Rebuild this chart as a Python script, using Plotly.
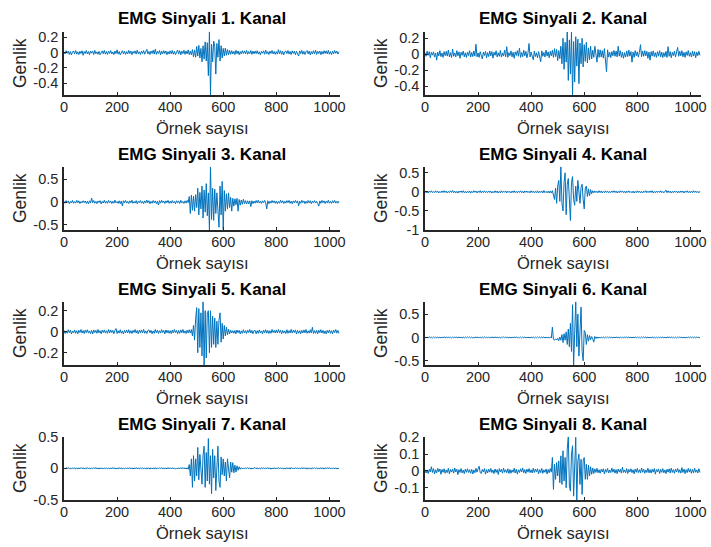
import numpy as np
import plotly.graph_objects as go

# Eight EMG channels, every 4th sample of the recording.
# Amplitudes are stored in thousandths (x 0.001).
SAMPLE_STEP = 4
AMP_SCALE = 1e-3

ch1 = [
    12, -18, 25, -9, 20, -24, 14, -30, 8, 22, -16, 28, -20, 10, -26, 18, -12, 24, -35, 15,
    -12, 27, -18, 14, -28, 21, -8, 19, -25, 30, -14, 10, -22, 17, -27, 11, 23, -15, 29, -20,
    14, -23, 19, -11, 27, -17, 9, -25, 21, -13, 36, -19, 15, -29, 11, 25, -16, 19, -23, 13,
    -18, 29, -13, 21, -27, 15, -9, 23, -19, 33, -15, 11, -25, 19, -13, 27, -21, 17, 42, -17,
    15, -25, 21, -11, 31, -19, 45, -23, 17, -13, 27, -29, 19, -15, 25, -11, 21, -27, 13, -19,
    23, -15, 29, -21, 17, -25, 13, 34, -19, 25, -29, 19, -13, 31, -23, 21, -17, 36, -27, 19,
    -28, 40, -55, 35, -60, 80, -45, 95, -70, 55, -120, 90, -85, 140, -110, 130, -300, 273, -553, 110,
    -120, 150, 80, -280, 120, -60, 170, -110, 90, -70, 55, -45, 60, -35, 40, -28, 30, -22, 25, -18,
    17, -25, 31, -15, 21, -27, 13, -19, 25, -11, 23, -17, 29, -21, 15, -13, 27, -23, 19, -15,
    21, -13, 25, -19, 11, -29, 17, -9, 23, -21, 33, -15, 13, -25, 19, -11, 27, -17, 15, -23,
    13, -19, 38, -15, 25, -23, 17, -29, 11, 21, -13, 27, -19, 15, -25, 23, -11, 19, -27, 17,
    -15, -45, 23, -13, 29, -21, 17, -25, 11, 27, -17, 21, -29, 13, -19, 25, -15, 31, -23, 17,
    -13, 21, -27, 15, -19, 25, -11, 23, -17, 29, -21, 13, -25, 19, -15, 27, -9, 21, -19, 11,
]

ch2 = [
    20, -26, 38, -14, 32, -45, 24, -12, 30, -36, 16, -75, 26, -20, 45, -30, 14, -40, 33, -18,
    36, -24, 52, -32, 20, -42, 65, -26, 16, -34, 45, -20, 30, -52, 24, -14, 40, -32, 18, -42,
    26, -18, 45, -36, 22, -30, 40, -24, 125, -33, 16, -40, 32, -22, -60, 26, -16, 36, -45, 20,
    -30, 40, -20, 33, -50, 24, -14, 43, -34, 18, -26, 48, -36, 16, -24, 52, -32, 95, -40, 20,
    -18, 42, -33, 24, -52, 30, -16, 45, -26, 75, -40, 22, -32, 50, -20, 36, -45, 16, 135, -34,
    26, -24, -70, 40, -30, 18, -45, 33, -16, -95, 42, -26, 22, -36, 52, -24, 30, -45, 36, -20,
    50, -40, 70, -30, 60, -80, 45, -55, 100, -120, 200, -190, 150, -100, 280, -330, 180, -250, 280, -510,
    160, -350, 220, -150, 190, -370, 140, -120, 200, -160, 120, -90, 150, -110, 80, -70, 100, -60, 50, -40,
    100, -50, -100, 60, -40, 55, -35, 45, -50, 70, -40, -220, 55, -36, 24, -42, 33, -20, 48, -26,
    40, -33, 100, -24, 45, -40, 26, -52, 20, -36, 42, -30, 52, -24, 33, -100, 26, -40, 45, -20,
    30, -36, 24, 120, -33, 40, -26, 45, -20, 36, -52, 26, -75, 33, -24, 42, -30, 20, -40, 32,
    -24, 45, -33, 26, -42, 20, -30, 36, -40, 95, -26, 33, -45, 24, -18, 40, -34, 30, 85, -26,
    36, -20, 44, -33, 24, -40, 30, -16, 46, -26, 20, -36, 40, -24, 32, -45, 26, -18, 36, -14,
]

ch3 = [
    16, -26, 32, -12, 24, -38, 14, -20, 35, -28, 10, -24, 38, -16, 26, -33, 12, -18, 28, -14,
    22, -30, 18, -38, 26, -24, 85, -16, 33, -26, 14, -35, 24, -12, 30, -40, 16, -22, 38, -26,
    18, -28, 35, -14, 24, -33, 16, -26, 40, -18, 12, -30, 26, -38, 22, -85, 28, -16, 35, -24,
    14, -33, 26, -18, 38, -28, 12, -24, 30, -40, 18, -14, 33, -26, 16, -35, 24, -20, 42, -16,
    28, -38, 14, -26, 33, -18, 24, -35, 16, -65, 30, -24, 38, -14, 22, -33, 26, -16, 35, -28,
    18, -26, 33, -20, 14, -38, 28, -16, 24, -33, 38, -18, 12, -30, 26, -24, 35, -14, 120, -250,
    150, -180, 130, -200, 160, -120, 300, -280, 210, -150, 350, -350, 260, -220, 400, -300, 200, -610, 770, -380,
    300, -400, 280, -250, 200, -300, -550, 350, -280, 450, -600, 250, -200, 180, -150, 200, -120, 100, -200, 80,
    -90, 70, -60, 80, -200, 55, -70, 45, -50, 60, -36, 30, -45, 26, -40, 24, -100, 28, -34, 20,
    -26, 33, -18, 38, -24, 16, -30, 26, -14, 35, -20, -150, 28, -38, 18, -24, 33, -16, 26, -28,
    20, -35, 14, -26, 38, -18, 28, -33, 16, -24, 30, -14, 35, -28, 18, -38, 24, -16, 33, -20,
    26, -85, 18, -30, 38, -14, 24, -35, 16, -26, 33, -18, 28, -38, 20, -16, 30, -24, 14, -33,
    -90, 24, -28, 35, -16, 26, -33, 18, -20, 38, -26, 14, -30, 28, -18, 33, -24, 16, -26, 20,
]

ch4 = [
    20, -25, 15, -30, 22, -12, 28, -20, 10, -22, 30, -15, 18, -28, 12, -20, 25, -18, 32, -15,
    22, -30, 12, -20, 28, -15, 35, -22, 18, -25, 15, -32, 20, -12, 25, -18, 30, -22, 12, -28,
    18, -22, 25, -35, 15, -20, 30, -12, 22, -28, 18, -15, 32, -25, 20, -18, 28, -22, 15, -20,
    25, -15, 20, -30, 12, -22, 28, -18, 22, -32, 15, -25, 30, -20, 18, -12, 25, -28, 20, -15,
    12, -28, 22, -18, 30, -20, 15, -25, 20, -15, 28, -22, 18, -30, 25, -12, 22, -20, 15, -25,
    30, -18, 20, -25, 15, -22, 28, -32, 18, -15, 22, -28, 35, -20, 12, -25, 20, -30, 25, -30,
    30, -60, -200, 100, -300, 150, 300, -250, 660, -300, -500, 250, 500, -600, 200, 350, -400, -750, 250, 400,
    -200, -350, 150, -250, 300, -150, -300, 120, 200, -200, -450, 100, 150, -120, 80, -100, 60, -50, 30, -25,
    25, -20, 18, -25, 30, -20, 25, -28, 15, -22, 28, -18, 20, -25, 12, -20, 22, -15, 30, -18,
    20, -28, 15, -22, 30, -12, 25, -20, 18, -32, 22, -15, 28, -18, 12, -25, 20, -30, 15, -22,
    28, -18, 22, -25, 15, -30, 20, -12, 32, -22, 18, -20, 25, -15, 30, -28, 12, -22, 20, -18,
    22, -15, 30, -20, 12, -25, 18, 45, -22, 28, -18, 20, -30, 15, -22, 25, -12, 20, -28, 18,
    -20, 25, -15, 22, -30, 18, -12, 28, -22, 15, -25, 20, -18, 30, -15, 22, -20, 12, -25, 18,
]

ch5 = [
    12, -17, 8, -14, 19, -10, 15, -21, 7, -12, 17, -15, 10, -19, 13, -8, 21, -13, 11, -17,
    15, -10, 19, -13, 8, -17, 12, -22, 17, -9, 13, -15, 21, -11, 10, -19, 15, -8, 17, -13,
    10, -15, 21, -12, 17, -8, 13, -19, 12, 30, -17, 10, -13, 19, -15, 8, -21, 13, -10, 17,
    -12, 19, -15, 10, -17, 13, -8, 21, -13, 12, -19, 15, -10, 17, -12, 22, -15, 8, -17, 12,
    17, -10, 13, -19, 8, -15, 21, -12, 15, -17, 10, -13, 19, -8, 12, -21, 17, -10, 13, -15,
    10, -17, 15, -12, 21, -8, 13, -19, 12, -15, 17, -10, 22, -13, 8, -17, 15, -12, 19, -13,
    20, -40, 60, -80, 120, 230, -200, 220, -150, 180, -230, 286, -317, 200, -250, 180, 200, -200, 200, -150,
    150, -120, 130, -150, 100, -120, 110, 180, -100, 80, -70, 60, -40, 45, -30, 25, -20, 15, -12, 10,
    -15, 12, -19, 17, -10, 13, -21, 8, -15, 19, -12, 10, -17, 15, -8, 21, -13, 12, -19, 10,
    13, -19, 10, -15, 17, -12, 8, -21, 15, -10, 19, -13, 12, -17, 10, -15, 21, -8, 13, -12,
    17, -12, 21, -10, 15, -19, 12, -13, 8, -17, 19, -15, 10, -12, 22, -13, 15, -8, 17, -21,
    12, -15, 10, -19, 13, -12, 17, -10, 21, -15, 8, -13, 19, -12, 42, -17, 10, -15, 13, -19,
    15, -10, 19, -13, 12, -17, 8, -21, 13, -12, 17, -15, 10, -19, 15, -8, 21, -13, 12, -17,
]

ch6 = [
    8, -11, 6, -9, 13, -8, 4, -12, 10, -6, 11, -13, 8, -10, 6, -12, 9, -8, 13, -6,
    10, -8, 12, -13, 6, -10, 8, -11, 13, -6, 9, -8, 12, -10, 6, -13, 8, -12, 10, -8,
    12, -6, 10, -11, 8, -13, 6, -9, 11, -8, 13, -10, 6, -12, 8, -9, 11, -6, 10, -13,
    6, -12, 13, -8, 10, -9, 12, -6, 8, -13, 10, -11, 6, -8, 12, -10, 13, -8, 6, -11,
    10, -13, 8, -9, 11, -6, 13, -12, 6, -10, 8, -11, 10, -8, 12, -13, 6, -9, 8, -12,
    11, -8, 10, -12, 6, -9, 13, -8, 8, -11, 10, -6, 12, -13, 8, -10, 6, -12, 10, -14,
    220, -40, -60, -30, -55, -20, -70, 10, -60, 60, -110, 80, -60, 120, -150, 180, -200, 300, -300, 700,
    -590, 250, 765, -200, 500, -400, 200, 650, -300, -500, 150, 100, -150, 60, -80, 40, -50, 20, -30, -100,
    20, -25, 12, -18, 10, -13, 8, -11, 10, -12, 8, -11, 10, -8, 12, -9, 6, -12, 8, -10,
    12, -8, 10, -13, 6, -10, 8, -12, 13, -6, 10, -8, 12, -10, 6, -11, 8, -9, 13, -8,
    10, -11, 6, -9, 12, -8, 13, -6, 10, -12, 8, -13, 6, -10, 11, -8, 9, -12, 6, -10,
    8, -13, 11, -6, 10, -9, 6, -12, 13, -8, 10, -6, 12, -10, 8, -11, 6, -13, 9, -8,
    11, -6, 8, -12, 10, -13, 6, -8, 12, -10, 13, -6, 8, -11, 10, -8, 12, -9, 6, -11,
]

ch7 = [
    8, -11, 10, -6, 13, -9, 6, -12, 8, -8, 11, -10, 6, -13, 9, -8, 12, -6, 10, -11,
    6, -10, 12, -8, 9, -13, 8, -6, 11, -9, 13, -8, 6, -12, 10, -9, 8, -11, 6, -8,
    11, -8, 6, -12, 9, -10, 13, -6, 8, -11, 6, -9, 12, -8, 10, -13, 8, -9, 6, -11,
    10, -6, 12, -9, 8, -11, 6, -8, 13, -10, 9, -12, 8, -6, 11, -9, 6, -13, 10, -8,
    8, -12, 9, -8, 6, -10, 11, -13, 8, -9, 10, -6, 13, -11, 8, -8, 6, -10, 12, -9,
    9, -8, 11, -10, 8, -13, 6, -11, 10, -8, 12, -9, 13, -6, 8, -11, 10, -14, 60, -120,
    150, -300, 200, -200, 150, -120, 330, -180, 220, -100, -250, 200, 350, -300, 250, -200, 470, -250, 200, -400,
    300, -150, 200, -350, 150, 350, -200, -300, 180, -100, 150, -120, 100, -200, 150, -80, -150, 100, -60, 90,
    -70, 50, -60, 40, -30, 25, -15, 10, -9, 8, -11, 10, -6, 12, -8, 9, -13, 6, -10, 8,
    11, -8, 10, -12, 6, -9, 13, -8, 8, -11, 10, -6, 12, -9, 8, -13, 6, -8, 10, -11,
    8, -10, 12, -6, 9, -11, 8, -13, 6, -10, 11, -8, 9, -12, 13, -6, 8, -9, 11, -8,
    10, -11, 6, -9, 13, -8, 11, -6, 8, -12, 9, -10, 6, -13, 11, -8, 10, -6, 8, -11,
    6, -9, 11, -8, 10, -13, 8, -6, 12, -9, 13, -8, 6, -11, 9, -10, 8, -12, 6, -8,
]

ch8 = [
    8, -12, 5, -15, 10, -6, 25, -9, 14, -18, 7, -11, 16, -5, 12, -20, 9, -8, 13, -14,
    6, -10, 15, -17, 9, -7, 12, -13, 18, -6, 10, -22, 8, -9, 14, -12, 5, -16, 11, -8,
    13, -9, 7, -14, 10, -18, 6, -11, 16, -7, 12, 28, -10, -15, 9, -6, 14, -19, 8, -12,
    11, -7, 15, -10, 6, -16, 12, -9, 8, -21, 14, -6, 10, -13, 17, -8, 7, -11, 13, -15,
    9, -14, 6, -8, 16, -12, 10, -19, 7, -9, 13, -6, 18, -11, 8, -15, 11, -7, 14, -10,
    7, -12, 16, -9, 11, -6, 13, -17, 8, -10, 15, -14, 6, -8, 12, -18, 9, -11, 14, -7,
    80, -110, 40, -50, 50, -30, 60, -70, 90, -80, 120, -60, 80, -100, 130, 204, -90, -120, 100, 150,
    -150, 110, 200, -173, 60, 100, -80, 70, -140, 60, 80, -50, 40, -50, 35, -30, 25, -20, 18, -15,
    12, -9, 16, -11, 7, -14, 10, -6, 13, -18, 9, -8, 15, -12, 6, -10, 17, -7, 11, -13,
    8, -16, 12, -7, 10, -13, 22, -9, 6, -11, 14, -15, 9, -6, 13, -10, 7, -17, 11, -8,
    15, -10, 7, -12, 18, -8, 11, -14, 6, -9, 16, -11, 8, -13, 10, -7, 14, -19, 9, -6,
    12, -15, 9, -8, 14, -11, 6, -16, 10, -7, 13, -12, 17, -9, 8, -14, 11, -6, 15, -10,
    7, -13, 20, -9, 11, -16, 8, -10, 15, -7, 12, -14, 9, -11, 16, -8, 6, -12, 13, -9,
]

channels = [ch1, ch2, ch3, ch4, ch5, ch6, ch7, ch8]
titles = [f"EMG Sinyali {k}. Kanal" for k in range(1, 9)]
x_label = "Örnek sayısı"
y_label = "Genlik"

x_range = [0, 1040]
x_tickvals = [0, 200, 400, 600, 800, 1000]
x_ticktext = ["0", "200", "400", "600", "800", "1000"]

y_ranges = [
    [-0.553, 0.273], [-0.513, 0.283],
    [-0.61, 0.77], [-1.0, 0.66],
    [-0.317, 0.286], [-0.59, 0.765],
    [-0.5, 0.5], [-0.173, 0.204],
]
y_tickvals = [
    [-0.4, -0.2, 0, 0.2], [-0.4, -0.2, 0, 0.2],
    [-0.5, 0, 0.5], [-1, -0.5, 0, 0.5],
    [-0.2, 0, 0.2], [-0.5, 0, 0.5],
    [-0.5, 0, 0.5], [-0.1, 0, 0.1, 0.2],
]
y_ticktext = [
    ["-0.4", "-0.2", "0", "0.2"], ["-0.4", "-0.2", "0", "0.2"],
    ["-0.5", "0", "0.5"], ["-1", "-0.5", "0", "0.5"],
    ["-0.2", "0", "0.2"], ["-0.5", "0", "0.5"],
    ["-0.5", "0", "0.5"], ["-0.1", "0", "0.1", "0.2"],
]

# ---- layout (pixels of a 711 x 547 page) ----
W, H = 711, 547
col_px = [(64, 340), (425, 701)]
row_px = [(31.7, 95), (166.7, 230), (301.7, 365), (436.7, 500)]

FONT = "Liberation Sans, Arial, Helvetica, sans-serif"
AX_COLOR = "#262626"
LINE_COLOR = "#0072BD"

fig = go.Figure()
layout = dict(
    width=W, height=H,
    margin=dict(l=0, r=0, t=0, b=0),
    paper_bgcolor="white", plot_bgcolor="white",
    showlegend=False,
    font=dict(family=FONT, color=AX_COLOR, size=14),
)
annotations = []

for k, ch in enumerate(channels):
    r, c = divmod(k, 2)
    n = k + 1
    xname = "xaxis" if n == 1 else f"xaxis{n}"
    yname = "yaxis" if n == 1 else f"yaxis{n}"
    xref = "x" if n == 1 else f"x{n}"
    yref = "y" if n == 1 else f"y{n}"

    amp = np.asarray(ch, dtype=float) * AMP_SCALE
    idx = np.arange(amp.size) * SAMPLE_STEP

    fig.add_trace(go.Scatter(
        x=idx, y=amp, mode="lines",
        line=dict(color=LINE_COLOR, width=1),
        xaxis=xref, yaxis=yref, hoverinfo="skip",
    ))

    x0, x1 = col_px[c]
    top, bot = row_px[r]
    axis_common = dict(
        showline=True, linecolor=AX_COLOR, linewidth=1.6,
        ticks="inside", ticklen=3, tickwidth=1.3, tickcolor=AX_COLOR,
        showgrid=False, zeroline=False, mirror=False,
        tickfont=dict(family=FONT, size=14.5, color=AX_COLOR),
        automargin=False,
    )
    layout[xname] = dict(
        axis_common, domain=[x0 / W, x1 / W], anchor=yref,
        range=x_range, tickmode="array", tickvals=x_tickvals, ticktext=x_ticktext,
        ticklabelstandoff=-2,
    )
    layout[yname] = dict(
        axis_common, domain=[1 - bot / H, 1 - top / H], anchor=xref,
        range=y_ranges[k], tickmode="array", tickvals=y_tickvals[k], ticktext=y_ticktext[k],
        ticklabelstandoff=1,
    )

    dom_x = f"{xref} domain"
    dom_y = f"{yref} domain"
    annotations.append(dict(
        text=f"<b>{titles[k]}</b>", xref=dom_x, yref=dom_y, x=0.5, y=1,
        yshift=12.7, xanchor="center", yanchor="middle", showarrow=False,
        font=dict(family=FONT, size=17, color="black"),
    ))
    annotations.append(dict(
        text=x_label, xref=dom_x, yref=dom_y, x=0.5, y=0,
        yshift=-33, xanchor="center", yanchor="middle", showarrow=False,
        font=dict(family=FONT, size=16.5, color=AX_COLOR),
    ))
    annotations.append(dict(
        text=y_label, xref=dom_x, yref=dom_y, x=0, y=0.5,
        xshift=-43.3, xanchor="center", yanchor="middle", textangle=-90,
        showarrow=False, font=dict(family=FONT, size=17.5, color=AX_COLOR),
    ))

layout["annotations"] = annotations
fig.update_layout(**layout)
fig.write_html("out.html")
